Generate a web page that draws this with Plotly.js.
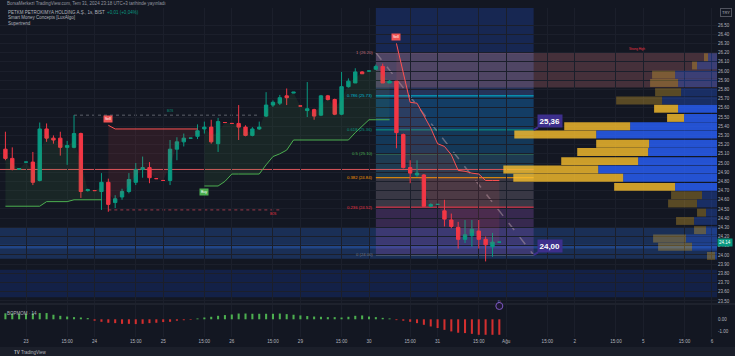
<!DOCTYPE html>
<html><head><meta charset="utf-8">
<script src="https://cdn.plot.ly/plotly-3.0.1.min.js"></script>
<style>html,body{margin:0;padding:0;background:#131722;overflow:hidden}#chart{width:735px;height:356px}</style>
</head><body><div id="chart"></div>
<script>
// ---------------- DATA ----------------
// bar index 0 = 23 Tem 09:00 (1 saatlik mumlar, 10 mum / gün); first bar = 22 Tem 16:00
const firstBar = -3;
const opens = [
  25.15, 25.05, 24.93,                                               // 22 Tem
  25.01, 25.01, 24.81, 25.37, 25.27, 25.27, 25.17, 25.17, 25.32, 24.70, // 23
  24.70, 24.69, 24.79, 24.57, 24.63, 24.69, 24.79, 24.93, 24.95, 24.83, // 24
  24.81, 24.81, 25.15, 25.23, 25.27, 25.29, 25.37, 25.39, 25.21, 25.44, // 25
  25.43, 25.43, 25.39, 25.30, 25.37, 25.51, 25.63, 25.65, 25.73, 25.76, // 26
  25.62, 25.57, 25.58, 25.52, 25.73, 25.69, 25.53, 25.83, 25.87, 25.99, // 29
  26.00, 26.02, 26.05, 25.87, 25.89, 25.31, 24.95, 24.87, 24.87, 24.53, // 30
  24.55, 24.48, 24.38, 24.30, 24.17, 24.21, 24.26, 24.17, 24.09, 24.14  // 31
];
const highs = [
  25.34, 25.17, 24.94,
  25.01, 25.12, 25.44, 25.43, 25.30, 25.34, 25.24, 25.52, 25.33, 24.72,
  24.70, 24.89, 24.83, 24.65, 24.72, 24.89, 25.00, 25.07, 25.01, 24.83,
  24.81, 25.25, 25.28, 25.32, 25.27, 25.42, 25.45, 25.47, 25.49, 25.44,
  25.43, 25.63, 25.41, 25.39, 25.45, 25.77, 25.68, 25.74, 25.81, 25.77,
  25.62, 25.88, 25.59, 25.74, 25.74, 25.70, 25.99, 25.92, 26.03, 26.00,
  26.00, 26.07, 26.08, 25.90, 25.89, 25.32, 25.03, 25.03, 24.88, 24.56,
  24.55, 24.60, 24.45, 24.36, 24.38, 24.38, 24.38, 24.20, 24.24, 24.14
];
const lows = [
  25.03, 24.92, 24.93,
  25.01, 24.76, 24.80, 25.23, 25.21, 25.08, 24.98, 25.16, 24.62, 24.69,
  24.70, 24.49, 24.47, 24.51, 24.60, 24.67, 24.76, 24.84, 24.78, 24.83,
  24.81, 24.76, 25.03, 25.18, 25.27, 25.26, 25.32, 25.21, 25.12, 25.44,
  25.43, 25.25, 25.29, 25.29, 25.36, 25.50, 25.61, 25.63, 25.63, 25.76,
  25.62, 25.50, 25.47, 25.51, 25.68, 25.52, 25.52, 25.82, 25.87, 25.97,
  26.00, 26.01, 25.87, 25.87, 25.16, 24.94, 24.78, 24.85, 24.53, 24.52,
  24.55, 24.31, 24.29, 24.07, 24.13, 24.09, 24.07, 23.93, 23.98, 24.14
];
const closes = [
  25.05, 24.93, 24.94,
  25.01, 24.79, 25.37, 25.27, 25.25, 25.17, 25.19, 25.32, 24.69, 24.71,
  24.70, 24.79, 24.55, 24.61, 24.69, 24.82, 24.93, 24.95, 24.84, 24.83,
  24.81, 25.15, 25.23, 25.27, 25.27, 25.35, 25.39, 25.23, 25.45, 25.44,
  25.43, 25.39, 25.30, 25.37, 25.39, 25.63, 25.66, 25.71, 25.71, 25.77,
  25.62, 25.59, 25.51, 25.73, 25.69, 25.53, 25.83, 25.89, 25.99, 25.97,
  26.00, 26.05, 25.87, 25.89, 25.33, 24.95, 24.89, 24.89, 24.53, 24.55,
  24.55, 24.39, 24.31, 24.17, 24.22, 24.28, 24.17, 24.11, 24.14, 24.14
];
// Supertrend line value and direction (1 = up / Buy, -1 = down / Sell)
const supertrend = [
  24.53, 24.53, 24.53,
  24.53, 24.53, 24.53, 24.58, 24.58, 24.58, 24.58, 24.60, 24.60, 24.60,
  24.60, 24.60, 25.41, 25.37, 25.37, 25.37, 25.37, 25.37, 25.37, 25.37,
  25.37, 25.37, 25.37, 25.37, 25.37, 25.37, 24.75, 24.75, 24.75, 24.80,
  24.88, 24.88, 24.88, 24.88, 24.88, 24.98, 25.07, 25.10, 25.14, 25.25,
  25.25, 25.25, 25.25, 25.25, 25.25, 25.25, 25.25, 25.25, 25.33, 25.40,
  25.47, 25.47, 25.47, 25.47, 26.30, 25.98, 25.66, 25.65, 25.52, 25.38,
  25.21, 25.18, 25.09, 24.92, 24.91, 24.89, 24.88, 24.81, 24.81, 24.81
];
const trendDir = [
  1, 1, 1,
  1, 1, 1, 1, 1, 1, 1, 1, 1, 1,
  1, 1, -1, -1, -1, -1, -1, -1, -1, -1,
  -1, -1, -1, -1, -1, -1, 1, 1, 1, 1,
  1, 1, 1, 1, 1, 1, 1, 1, 1, 1,
  1, 1, 1, 1, 1, 1, 1, 1, 1, 1,
  1, 1, 1, 1, -1, -1, -1, -1, -1, -1,
  -1, -1, -1, -1, -1, -1, -1, -1, -1, -1
];
// lower pane oscillator
const momentum = [
  0.50, 0.50, 0.46,
  0.46, 0.50, 0.52, 0.52, 0.38, 0.29, 0.23, 0.18, 0.15, 0.10,
  -0.12, -0.21, -0.29, -0.32, -0.38, -0.38, -0.40, -0.38, -0.32, -0.29,
  -0.23, -0.21, -0.12, -0.08, -0.05, 0.07, 0.15, 0.21, 0.29, 0.35,
  0.40, 0.48, 0.48, 0.46, 0.46, 0.46, 0.46, 0.48, 0.43, 0.38,
  0.32, 0.27, 0.23, 0.21, 0.18, 0.18, 0.15, 0.21, 0.29, 0.32,
  0.23, 0.18, 0.12, 0.07, -0.07, -0.12, -0.21, -0.32, -0.46, -0.60,
  -0.73, -0.88, -1.01, -1.12, -1.15, -1.21, -1.29, -1.29, -1.29, -1.29
];
// time axis
const tickPos = [0,6,10,16,20,26,30,36,40,46,50,56,60,66,70,76,80,86,90,96,100];
const tickLabels = ['23','15:00','24','15:00','25','15:00','26','15:00','29','15:00','30','15:00','31','15:00','Ağu','15:00','2','15:00','5','15:00','6'];
// Fibonacci retracement
const fibStartBar = 51, fibEndBar = 74;
const fibRatios = [1, 0.786, 0.618, 0.5, 0.382, 0.236, 0];
const fibPrices = [26.20, 25.73, 25.36, 25.10, 24.84, 24.52, 24.00];
// volume profile (rows top -> bottom)
const vpPrices = [26.15,26.06,25.96,25.87,25.77,25.68,25.59,25.49,25.40,25.31,25.21,25.12,25.02,24.93,24.84,24.74,24.65,24.56,24.46,24.37,24.27,24.18,24.09,23.99];
const vpUp   = [9,20,42,39,36,55,39,33,87,121,68,69,79,119,94,42,15,20,11,23,11,31,25,2];
const vpDown = [4,5,23,28,26,46,24,17,66,82,53,71,77,95,110,61,31,29,9,18,12,33,34,8];
const vpValueAreaRows = [6, 15];
// zones / levels
const premiumZone = [25.82, 26.20];
const orderBlocks = [[23.96, 24.30], [23.54, 23.84], [24.07, 24.11]];
const redLevel = 24.93;
const structHigh = {price: 25.52, from: 7, to: 34};
const structLow = {price: 24.49, from: 12, to: 37};
const calloutPrices = [25.36, 24.00];
const calloutTexts = ['25,36', '24,00'];
const lastPrice = 24.14;
const priceTickRange = [23.5, 26.5];

// ---------------- BUILD ----------------
const n = opens.length;
const xs = opens.map((_, k) => firstBar + k);
const mids = opens.map((o, k) => (o + closes[k]) / 2);
const traces = [];

let s = 0;
for (let k = 1; k <= n; k++) {
  if (k === n || trendDir[k] !== trendDir[s]) {
    const idx = [];
    for (let j = s; j < k; j++) idx.push(j);
    const up = trendDir[s] > 0;
    traces.push({type:'scatter', mode:'lines', x: idx.map(j => xs[j]), y: idx.map(j => mids[j]),
      line:{width:0, color:'rgba(0,0,0,0)'}, hoverinfo:'skip', showlegend:false});
    traces.push({type:'scatter', mode:'lines', x: idx.map(j => xs[j]), y: idx.map(j => supertrend[j]),
      line:{width:1, color: up ? '#4caf50' : '#ff5252'}, fill:'tonexty',
      fillcolor: up ? 'rgba(76,175,80,0.10)' : 'rgba(255,82,82,0.10)', hoverinfo:'skip', showlegend:false});
    s = k;
  }
}

traces.push({type:'candlestick', x: xs, open: opens, high: highs, low: lows, close: closes,
  increasing:{line:{color:'#089981', width:1}, fillcolor:'#089981'},
  decreasing:{line:{color:'#f23645', width:1}, fillcolor:'#f23645'},
  whiskerwidth:0, hoverinfo:'skip', showlegend:false});

traces.push({type:'bar', x: xs, y: momentum, xaxis:'x', yaxis:'y2', width:0.3,
  marker:{color: momentum.map(v => v >= 0 ? '#4caf50' : '#d32f2f')}, hoverinfo:'skip', showlegend:false});

const inVA = vpPrices.map((_, r) => r >= vpValueAreaRows[0] && r <= vpValueAreaRows[1]);
const vpTotals = vpUp.map((u, r) => u + vpDown[r]);
const vpRange = Math.max(...vpTotals) / 0.298;
traces.push({type:'bar', orientation:'h', xaxis:'x2', yaxis:'y', y: vpPrices, x: vpUp, base: 0, width: 0.086,
  marker:{color: inVA.map(b => b ? 'rgba(41,98,255,0.80)' : 'rgba(41,98,255,0.30)')}, hoverinfo:'skip', showlegend:false});
traces.push({type:'bar', orientation:'h', xaxis:'x2', yaxis:'y', y: vpPrices, x: vpDown, base: vpUp, width: 0.086,
  marker:{color: inVA.map(b => b ? 'rgba(251,192,45,0.80)' : 'rgba(251,192,45,0.30)')}, hoverinfo:'skip', showlegend:false});

const TOP = 8, BOTTOM = 337, H = BOTTOM - TOP, PLOTW = 717;
const py = p => (BOTTOM - p) / H;
const px = p => p / PLOTW;

const shapes = [];
const XL = -4, XR = 101;
shapes.push({type:'rect', xref:'x', yref:'y', x0:XL, x1:XR, y0:orderBlocks[1][0], y1:orderBlocks[1][1], fillcolor:'rgba(24,72,204,0.22)', line:{width:0}, layer:'below'});
shapes.push({type:'rect', xref:'x', yref:'y', x0:XL, x1:XR, y0:orderBlocks[0][0], y1:orderBlocks[0][1], fillcolor:'rgba(49,121,245,0.25)', line:{width:0}, layer:'below'});
shapes.push({type:'rect', xref:'x', yref:'y', x0:XL, x1:XR, y0:orderBlocks[2][0], y1:orderBlocks[2][1], fillcolor:'rgba(49,121,245,0.30)', line:{width:0}, layer:'below'});
shapes.push({type:'rect', xref:'x', yref:'y', x0:fibStartBar, x1:fibEndBar, y0:fibPrices[6], y1:26.75, fillcolor:'rgba(41,98,255,0.22)', line:{width:0}, layer:'below'});
shapes.push({type:'rect', xref:'x', yref:'y', x0:fibStartBar, x1:XR, y0:premiumZone[0], y1:premiumZone[1], fillcolor:'rgba(219,123,130,0.25)', line:{width:0}, layer:'below'});
const fibFill = ['rgba(120,123,134,0.15)','rgba(0,188,212,0.15)','rgba(8,153,129,0.15)','rgba(76,175,80,0.15)','rgba(255,152,0,0.15)','rgba(242,54,69,0.15)'];
for (let k = 0; k < fibPrices.length - 1; k++) {
  shapes.push({type:'rect', xref:'x', yref:'y', x0:fibStartBar, x1:fibEndBar, y0:fibPrices[k+1], y1:fibPrices[k], fillcolor:fibFill[k], line:{width:0}, layer:'below'});
}
const fibLineColors = ['#c4707c','#00bcd4','#089981','#4caf50','#ff9800','#f23645','#787b86'];
fibPrices.forEach((p, k) => shapes.push({type:'line', xref:'x', yref:'y', x0:fibStartBar, x1:fibEndBar, y0:p, y1:p, line:{color:fibLineColors[k], width:1}, layer:'below'}));
shapes.push({type:'line', xref:'x', yref:'y', x0:fibStartBar, x1:fibEndBar, y0:fibPrices[0], y1:fibPrices[6], line:{color:'rgba(170,150,160,0.55)', width:1.5, dash:'dash'}, layer:'below'});
shapes.push({type:'line', xref:'x', yref:'y', x0:XL, x1:fibEndBar, y0:redLevel, y1:redLevel, line:{color:'#d9545a', width:1}, layer:'below'});
shapes.push({type:'line', xref:'x', yref:'y', x0:structHigh.from, x1:structHigh.to, y0:structHigh.price, y1:structHigh.price, line:{color:'#5d606b', width:1, dash:'dot'}, layer:'below'});
shapes.push({type:'line', xref:'x', yref:'y', x0:structLow.from, x1:structLow.to, y0:structLow.price, y1:structLow.price, line:{color:'#9c3a4a', width:1, dash:'dot'}, layer:'below'});
shapes.push({type:'line', xref:'paper', yref:'paper', x0:0, x1:1.03, y0:py(304), y1:py(304), line:{color:'#2a2e39', width:1}});
shapes.push({type:'rect', xref:'paper', yref:'paper', x0:-0.01, x1:1.03, y0:py(357), y1:py(347), fillcolor:'#1b1f2a', line:{width:0}, layer:'below'});
shapes.push({type:'circle', xref:'x', yref:'paper', xsizemode:'pixel', ysizemode:'pixel', xanchor:69, yanchor:py(306), x0:-3.5, x1:3.5, y0:-3.5, y1:3.5, fillcolor:'#1d1830', line:{color:'#7e57c2', width:1}});

const annotations = [];
const F = 'Liberation Sans, Arial, sans-serif';
function txt(x, y, text, o) {
  annotations.push(Object.assign({x, y, text, showarrow:false, xref:'paper', yref:'paper', xanchor:'left', yanchor:'middle',
    font:{family:F, size:4.5, color:'#b2b5be'}}, o || {}));
}
txt(px(5), py(3.5), 'BorsaMerkezi TradingView.com, Tem 31, 2024 23:18 UTC+3 tarihinde yayınladı', {font:{family:F, size:4.5, color:'#9598a1'}});
txt(px(6), py(12), 'PETKM PETROKIMYA HOLDING A.Ş., 1s, BIST  <span style="color:#089981">+0,01 (+0,04%)</span>');
txt(px(6), py(17.5), 'Smart Money Concepts [LuxAlgo]');
txt(px(6), py(23), 'Supertrend');
txt(px(5), py(313), 'BOPMOM · 14');
txt(px(12), py(352), '<b>TV</b> TradingView', {font:{family:F, size:4.5, color:'#b2b5be'}});
txt(px(725.5), py(13), 'TRY', {xanchor:'center', bordercolor:'#50535e', borderwidth:1, borderpad:1, font:{family:F, size:4, color:'#b2b5be'}});
txt(1, lastPrice, lastPrice.toFixed(2), {yref:'y', bgcolor:'#089981', borderpad:1, font:{family:F, size:4.5, color:'#ffffff'}});
fibRatios.forEach((r, k) => txt(fibStartBar, fibPrices[k], r + ' (' + fibPrices[k].toFixed(2) + ')',
  {xref:'x', yref:'y', xanchor:'right', xshift:-1, font:{family:F, size:4.2, color:fibLineColors[k]}}));
function sig(bar, text, color, above) {
  const k = bar - firstBar;
  annotations.push({x:bar, y:supertrend[k], xref:'x', yref:'y', text, showarrow:false, xanchor:'center',
    yanchor: above ? 'bottom' : 'top', yshift: above ? 2 : -2, bgcolor:color, borderpad:1,
    font:{family:F, size:3.5, color:'#ffffff'}});
}
for (let k = 1; k < n; k++) {
  if (trendDir[k] !== trendDir[k-1]) sig(xs[k], trendDir[k] > 0 ? 'Buy' : 'Sell', trendDir[k] > 0 ? '#4caf50' : '#f05555', trendDir[k] < 0);
}
annotations.push({x:21, y:structHigh.price, xref:'x', yref:'y', text:'BOS', showarrow:false, yanchor:'bottom', font:{family:F, size:3, color:'#089981'}});
annotations.push({x:36, y:structLow.price, xref:'x', yref:'y', text:'BOS', showarrow:false, yanchor:'top', font:{family:F, size:3, color:'#f23645'}});
annotations.push({x:89, y:premiumZone[1], xref:'x', yref:'y', text:'Strong High', showarrow:false, yanchor:'bottom', font:{family:F, size:3, color:'#f23645'}});
calloutPrices.forEach((p, k) => annotations.push({x:fibEndBar, y:p, xref:'x', yref:'y', text:'<b>' + calloutTexts[k] + '</b>',
  showarrow:true, arrowhead:0, arrowwidth:2, arrowcolor:'#3d2f8c', ax:16, ay:-9, standoff:0,
  bgcolor:'#3d2f8c', borderpad:1.5, font:{family:F, size:8, color:'#ffffff'}}));
annotations.push({x:69, y:py(306), xref:'x', yref:'paper', text:'D', showarrow:false, font:{family:F, size:3.5, color:'#9c7fe0'}});

const priceTicks = [];
for (let v = Math.round(priceTickRange[0] * 10); v <= Math.round(priceTickRange[1] * 10); v++) priceTicks.push(v / 10);

const layout = {
  width:735, height:356, margin:{l:0, r:18, t:TOP, b:356 - BOTTOM},
  paper_bgcolor:'#131722', plot_bgcolor:'#131722', showlegend:false, barmode:'overlay',
  font:{family:F, size:5, color:'#b2b5be'},
  xaxis:{range:[-3.79, 100.73], anchor:'y2', tickvals:tickPos, ticktext:tickLabels, ticks:'', showgrid:true,
    gridcolor:'#1b1f2b', zeroline:false, showline:false, rangeslider:{visible:false}, tickfont:{size:4.6, color:'#b2b5be'}, fixedrange:true},
  xaxis2:{overlaying:'x', anchor:'y', range:[vpRange, 0], visible:false, fixedrange:true},
  yaxis:{domain:[py(303), 1], range:[23.478, 26.685], side:'right', tickvals:priceTicks, ticktext:priceTicks.map(v => v.toFixed(2)), ticks:'',
    showgrid:true, gridcolor:'#1b1f2b', zeroline:false, showline:false, tickfont:{size:4.5, color:'#b2b5be'}, fixedrange:true},
  yaxis2:{domain:[0, py(305)], range:[-1.475, 1.19], side:'right', tickvals:[0, -1], ticktext:['0.00', '-1.00'], ticks:'',
    showgrid:false, zeroline:false, showline:false, tickfont:{size:4.5, color:'#b2b5be'}, fixedrange:true},
  shapes, annotations
};
Plotly.newPlot('chart', traces, layout, {staticPlot:true, displayModeBar:false});
</script>
</body></html>
